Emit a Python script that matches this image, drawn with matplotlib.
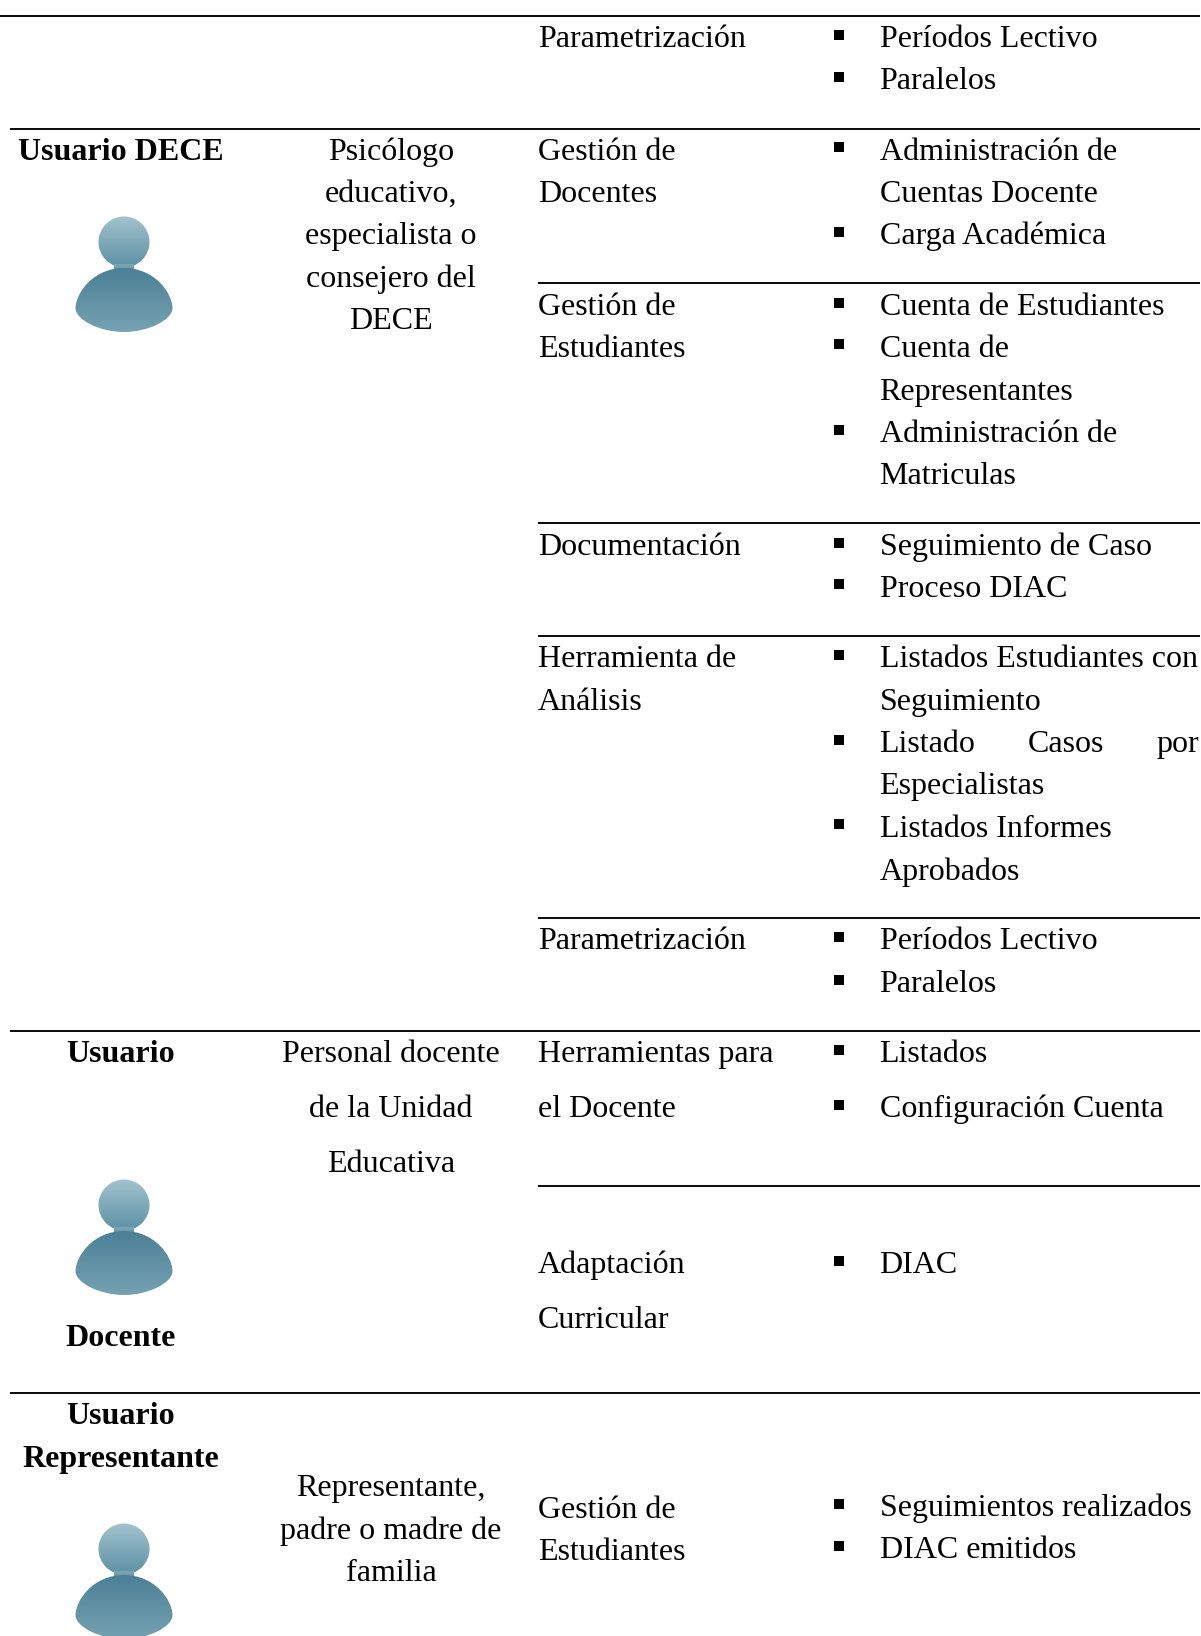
import numpy as np
import matplotlib
matplotlib.use("Agg")
import matplotlib.pyplot as plt
from matplotlib.path import Path
from matplotlib.patches import PathPatch
from matplotlib.colors import LinearSegmentedColormap

plt.rcParams['font.family'] = ['Liberation Serif', 'DejaVu Serif']

W, H = 1201, 1636
FS = 23.0
TEXT_DY = 0.9  # baselines sit a bit lower than first read

# table text
role_labels = ["Usuario DECE", "Usuario", "Docente", "Usuario", "Representante"]
role_y = [159, 1061, 1345, 1423, 1466]

profile_labels = ["Psicólogo", "educativo,", "especialista o", "consejero del", "DECE",
                  "Personal docente", "de la Unidad", "Educativa",
                  "Representante,", "padre o madre de", "familia"]
profile_y = [159, 201, 243, 286, 328, 1061, 1116, 1171, 1495, 1538, 1580]

module_labels = ["Parametrización", "Gestión de", "Docentes", "Gestión de", "Estudiantes",
                 "Documentación", "Herramienta de", "Análisis", "Parametrización",
                 "Herramientas para", "el Docente", "Adaptación", "Curricular",
                 "Gestión de", "Estudiantes"]
module_y = [46, 159, 201, 314, 356, 554, 666, 709, 948, 1061, 1116, 1272, 1327, 1517, 1559]

item_labels = ["Períodos Lectivo", "Paralelos", "Administración de", "Cuentas Docente",
               "Carga Académica", "Cuenta de Estudiantes", "Cuenta de", "Representantes",
               "Administración de", "Matriculas", "Seguimiento de Caso", "Proceso DIAC",
               "Listados Estudiantes con", "Seguimiento", "Especialistas",
               "Listados Informes", "Aprobados", "Períodos Lectivo", "Paralelos",
               "Listados", "Configuración Cuenta", "DIAC",
               "Seguimientos realizados", "DIAC emitidos"]
item_y = [46, 88, 159, 201, 243, 314, 356, 399, 441, 483, 554, 596, 666, 709, 793,
          836, 879, 948, 991, 1061, 1116, 1272, 1515, 1557]

# the justified line gets its words placed one by one
justified_words = ["Listado", "Casos", "por"]
justified_x = [879.5, 1028, 1156]
justified_y = 751

bullet_y = [35, 77, 147, 232, 303, 344, 430, 543, 584, 655, 740, 824, 937, 980,
            1050, 1105, 1261, 1504, 1546]

# rules: y, start x
rule_y = [16, 129, 283, 523, 636, 918, 1031, 1186, 1393]
rule_x0 = [0, 10, 538, 538, 538, 538, 10, 538, 10]

icon_top = [216, 1179, 1523]
icon_x = [124, 124, 124]

fig = plt.figure(figsize=(W / 100, H / 100), dpi=100)
ax = fig.add_axes([0, 0, 1, 1])
ax.set_xlim(0, W)
ax.set_ylim(H, 0)
ax.axis("off")

for y, x0 in zip(rule_y, rule_x0):
    ax.plot([x0, W - 1], [y, y], color="black", lw=1.35, solid_capstyle="butt")

for t, y in zip(role_labels, role_y):
    ax.text(121, y + TEXT_DY, t, ha="center", va="baseline", fontsize=FS, fontweight="bold", color="black")
for t, y in zip(profile_labels, profile_y):
    ax.text(391, y + TEXT_DY, t, ha="center", va="baseline", fontsize=FS, color="black")
for t, y in zip(module_labels, module_y):
    ax.text(538, y + TEXT_DY, t, ha="left", va="baseline", fontsize=FS, color="black")
for t, y in zip(item_labels, item_y):
    ax.text(879.5, y + TEXT_DY, t, ha="left", va="baseline", fontsize=FS, color="black")
for t, x in zip(justified_words, justified_x):
    ax.text(x, justified_y + TEXT_DY, t, ha="left", va="baseline", fontsize=FS, color="black")

ax.scatter([839] * len(bullet_y), bullet_y, marker="s", s=45, color="black", linewidths=0)


def gradient(extent, top, bottom, clip):
    cmap = LinearSegmentedColormap.from_list("g", [top, bottom])
    im = ax.imshow(np.linspace(0, 1, 64).reshape(-1, 1), cmap=cmap, extent=extent,
                   aspect="auto", zorder=2, interpolation="bilinear")
    im.set_clip_path(clip)


def draw_user(cx, top):
    # head
    cy = top + 26
    head = PathPatch(Path.circle((cx, cy), 25.5), fc="none", ec="none", transform=ax.transData)
    ax.add_patch(head)
    gradient((cx - 27, cx + 27, cy + 27, cy - 27), "#a3c3ce", "#5b90a3", head)
    # neck
    neck = PathPatch(Path([(cx - 10, top + 48), (cx + 10, top + 48), (cx + 10, top + 56), (cx - 10, top + 56), (cx - 10, top + 48)]),
                     fc="none", ec="none")
    ax.add_patch(neck)
    gradient((cx - 10, cx + 10, top + 56, top + 48), "#7fa8b7", "#5c8fa3", neck)
    # body
    b = top + 52
    verts = [(cx, b),
             (cx - 30, b), (cx - 48, b + 24), (cx - 48.5, b + 40),
             (cx - 48.5, b + 52), (cx - 24, b + 64), (cx, b + 64),
             (cx + 24, b + 64), (cx + 48.5, b + 52), (cx + 48.5, b + 40),
             (cx + 48, b + 24), (cx + 30, b), (cx, b)]
    codes = [Path.MOVETO] + [Path.CURVE4] * 12
    body = PathPatch(Path(verts, codes), fc="none", ec="none")
    ax.add_patch(body)
    gradient((cx - 50, cx + 50, b + 66, b - 1), "#4b7f96", "#77a3b3", body)


for x, t in zip(icon_x, icon_top):
    draw_user(x, t)

ax.set_xlim(0, W)
ax.set_ylim(H, 0)
fig.savefig("out.png", dpi=100, facecolor="white")
